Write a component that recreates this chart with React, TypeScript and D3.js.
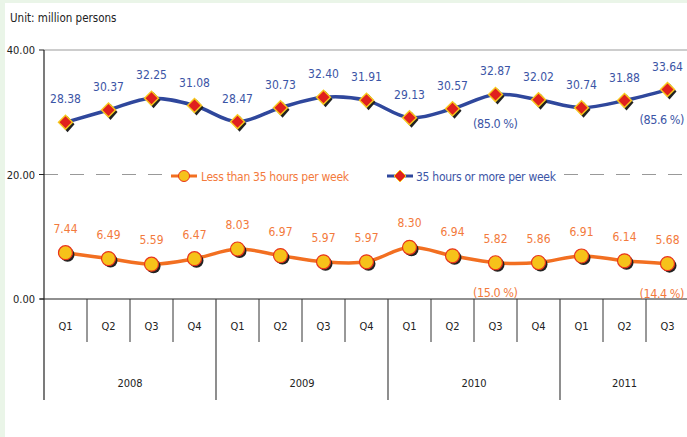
import React from "react";
import * as d3 from "d3";

const years = ["2008", "2009", "2010", "2011"];
const quarters = ["Q1", "Q2", "Q3", "Q4", "Q1", "Q2", "Q3", "Q4", "Q1", "Q2", "Q3", "Q4", "Q1", "Q2", "Q3"];
const fullTime = [28.38, 30.37, 32.25, 31.08, 28.47, 30.73, 32.4, 31.91, 29.13, 30.57, 32.87, 32.02, 30.74, 31.88, 33.64];
const partTime = [7.44, 6.49, 5.59, 6.47, 8.03, 6.97, 5.97, 5.97, 8.3, 6.94, 5.82, 5.86, 6.91, 6.14, 5.68];
const fullShare = [{ i: 10, t: "(85.0 %)" }, { i: 14, t: "(85.6 %)" }];
const partShare = [{ i: 10, t: "(15.0 %)" }, { i: 14, t: "(14.4 %)" }];
const yTicks = [0, 20, 40];

const W = 687, H = 437;
const FONT = "'DejaVu Sans Condensed', 'DejaVu Sans', sans-serif";
const BLUE = "#2f479c";
const BLUE_TXT = "#3b55a6";
const ORANGE = "#f26f21";
const ORANGE_TXT = "#f37a3c";

const idx = d3.range(quarters.length);
const x = d3.scaleBand<number>().domain(idx).range([44, 689]).padding(0);
const y = d3.scaleLinear().domain([0, 40]).range([299, 50]);
const cx = (i: number) => (x(i) as number) + x.bandwidth() / 2;

const line = d3.line<number>()
  .x((_, i) => cx(i))
  .y(d => y(d))
  .curve(d3.curveCatmullRom.alpha(0.5));

const Diamond = ({ px, py }: { px: number; py: number }) => (
  <g>
    <path d={`M${px + 2},${py - 6} L${px + 9},${py + 2} L${px + 2},${py + 10} L${px - 5},${py + 2} Z`} fill="#222" />
    <path d={`M${px},${py - 8} L${px + 8},${py} L${px},${py + 8} L${px - 8},${py} Z`} fill="#f7c81c" />
    <path d={`M${px},${py - 6} L${px + 6},${py} L${px},${py + 6} L${px - 6},${py} Z`} fill="#e0201e" />
  </g>
);

const Dot = ({ px, py }: { px: number; py: number }) => (
  <g>
    <circle cx={px + 2} cy={py + 2} r={7} fill="#222" />
    <circle cx={px} cy={py} r={7} fill="#f6c21a" stroke="#e8341c" strokeWidth={1.2} />
  </g>
);

export default function App() {
  const yearW = x.bandwidth() * 4;
  return (
    <svg width={W} height={H} style={{ position: "absolute", left: 0, top: 0 }} fontFamily={FONT}>
      <rect width={W} height={H} fill="#eaf5e8" />
      <rect x={5} y={3} width={W - 5} height={H - 3} fill="#ffffff" />
      <text x={10} y={22} fontSize={11.5} fill="#222">Unit: million persons</text>

      {/* gridlines */}
      <line x1={44} x2={W} y1={y(40)} y2={y(40)} stroke="#bdbdbd" strokeWidth={1.5} />
      <line x1={44} x2={W} y1={y(20)} y2={y(20)} stroke="#999" strokeWidth={1} strokeDasharray="14,12" />

      {yTicks.map(t => (
        <g key={t}>
          <line x1={39} x2={44} y1={y(t)} y2={y(t)} stroke="#222" />
          <text x={35} y={y(t) + 4} fontSize={11} textAnchor="end" fill="#222">{t.toFixed(2)}</text>
        </g>
      ))}

      {/* axes */}
      <line x1={44} x2={44} y1={y(40)} y2={400} stroke="#222" strokeWidth={1.2} />
      <line x1={40} x2={W} y1={y(0)} y2={y(0)} stroke="#222" strokeWidth={1.2} />
      {idx.map(i => (
        <g key={i}>
          {i > 0 && i % 4 !== 0 && (
            <line x1={x(i) as number} x2={x(i) as number} y1={y(0)} y2={342} stroke="#333" />
          )}
          <text x={cx(i)} y={330} fontSize={11} textAnchor="middle" fill="#222">{quarters[i]}</text>
        </g>
      ))}
      {years.map((yr, k) => {
        const x0 = (x(k * 4) as number);
        const x1 = Math.min(x0 + yearW, 689);
        return (
          <g key={yr}>
            {k > 0 && <line x1={x0} x2={x0} y1={y(0)} y2={400} stroke="#444" strokeWidth={1.2} />}
            <text x={(x0 + x1) / 2} y={387} fontSize={11} textAnchor="middle" fill="#222">{yr}</text>
          </g>
        );
      })}

      {/* legend */}
      <g>
        <rect x={166} y={165} width={394} height={22} fill="#ffffff" />
        <line x1={171} x2={197} y1={176} y2={176} stroke={ORANGE} strokeWidth={3} />
        <circle cx={184} cy={176} r={5.5} fill="#f6c21a" stroke="#e8341c" />
        <text x={201} y={181} fontSize={12} fill={ORANGE_TXT} textLength={148}>Less than 35 hours per week</text>
        <line x1={387} x2={413} y1={176} y2={176} stroke={BLUE} strokeWidth={3} />
        <path d="M400,170 L406,176 L400,182 L394,176 Z" fill="#e0201e" stroke="#f7c81c" strokeWidth={1} />
        <text x={416} y={181} fontSize={12} fill={BLUE_TXT} textLength={140}>35 hours or more per week</text>
      </g>

      {/* series */}
      <path d={line(fullTime) as string} fill="none" stroke={BLUE} strokeWidth={3.5} />
      <path d={line(partTime) as string} fill="none" stroke={ORANGE} strokeWidth={3.5} />
      {fullTime.map((v, i) => <Diamond key={i} px={cx(i)} py={y(v)} />)}
      {partTime.map((v, i) => <Dot key={i} px={cx(i)} py={y(v)} />)}

      {fullTime.map((v, i) => (
        <text key={i} x={cx(i)} y={y(v) - 19} fontSize={12} textAnchor="middle" fill={BLUE_TXT}>{v.toFixed(2)}</text>
      ))}
      {partTime.map((v, i) => (
        <text key={i} x={cx(i)} y={y(v) - 20} fontSize={12} textAnchor="middle" fill={ORANGE_TXT}>{v.toFixed(2)}</text>
      ))}
      {fullShare.map(s => (
        <text key={s.i} x={Math.min(cx(s.i), W - 25)} y={y(fullTime[s.i]) + 34} fontSize={12.5} textAnchor="middle" fill={BLUE_TXT} textLength={45}>{s.t}</text>
      ))}
      {partShare.map(s => (
        <text key={s.i} x={Math.min(cx(s.i), W - 25)} y={y(partTime[s.i]) + 34} fontSize={12.5} textAnchor="middle" fill={ORANGE_TXT} textLength={45}>{s.t}</text>
      ))}
    </svg>
  );
}
